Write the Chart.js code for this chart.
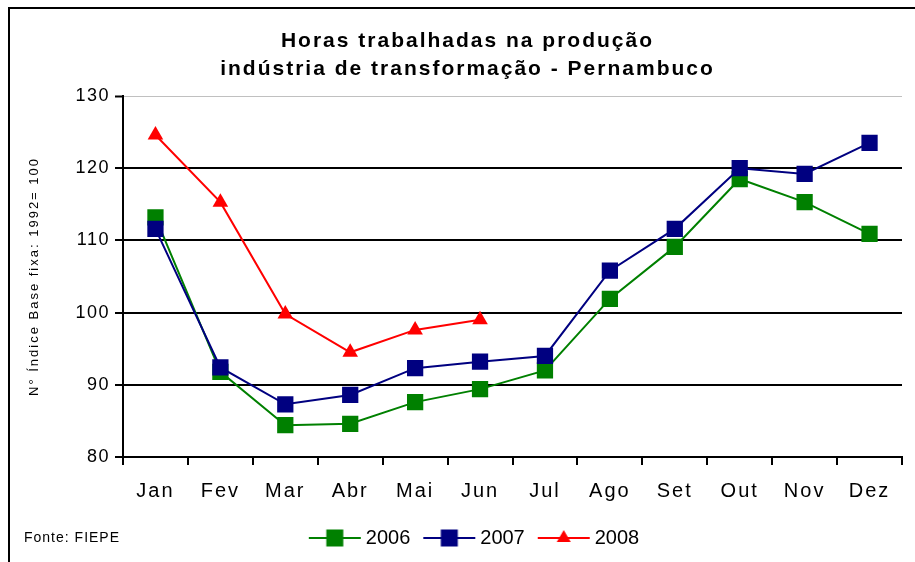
<!DOCTYPE html>
<html>
<head>
<meta charset="utf-8">
<script src="https://cdn.jsdelivr.net/npm/chart.js@4.4.1/dist/chart.umd.min.js"></script>
<style>
html, body { margin: 0; padding: 0; background: #fff; }
#wrap { width: 915px; height: 562px; }
canvas { display: block; }
</style>
</head>
<body>
<div id="wrap"><canvas id="c" width="915" height="562"></canvas></div>
<script>
// ---- data ----
const months = ['Jan', 'Fev', 'Mar', 'Abr', 'Mai', 'Jun', 'Jul', 'Ago', 'Set', 'Out', 'Nov', 'Dez'];
const series2006 = [113.2, 91.8, 84.4, 84.6, 87.6, 89.4, 92.0, 101.9, 109.1, 118.5, 115.3, 110.9];
const series2007 = [111.6, 92.4, 87.3, 88.6, 92.3, 93.2, 94.0, 105.8, 111.6, 120.0, 119.2, 123.5];
const series2008 = [124.6, 115.3, 99.8, 94.5, 97.6, 99.0];
const seriesNames = ['2006', '2007', '2008'];
const yTicks = [80, 90, 100, 110, 120, 130];
const titleLines = ['Horas trabalhadas na produção', 'indústria de transformação - Pernambuco'];
const yTitle = 'N° Índice Base fixa: 1992= 100';
const sourceNote = 'Fonte: FIEPE';

// ---- styles ----
const FONT = '"Liberation Sans", Arial, Helvetica, sans-serif';
const COLORS = ['#008000', '#000080', '#ff0000'];
const MARKERS = ['rect', 'rect', 'triangle'];

Chart.defaults.font.family = FONT;
Chart.defaults.color = '#000';

function legendIcon(color, style) {
  const cv = document.createElement('canvas');
  cv.width = 72; cv.height = 20;
  const g = cv.getContext('2d');
  g.strokeStyle = color; g.lineWidth = 2;
  g.beginPath(); g.moveTo(19, 10); g.lineTo(71, 10); g.stroke();
  g.fillStyle = color;
  if (style === 'rect') {
    g.fillRect(45 - 8.5, 10 - 8.5, 17, 17);
  } else {
    g.beginPath();
    g.moveTo(45, 2);
    g.lineTo(45 + 7, 14);
    g.lineTo(45 - 7, 14);
    g.closePath(); g.fill();
  }
  return cv;
}
const icons = COLORS.map((c, i) => legendIcon(c, MARKERS[i]));

function spaceText(obj, methods, ls) {
  methods.forEach(m => {
    const orig = obj[m];
    if (typeof orig !== 'function' || orig._spaced) return;
    const wrapped = function (...args) {
      const ctx = this.ctx;
      const prev = ctx.letterSpacing;
      ctx.letterSpacing = ls;
      try { return orig.apply(this, args); } finally { ctx.letterSpacing = prev; }
    };
    wrapped._spaced = true;
    obj[m] = wrapped;
  });
}

const spacingPlugin = {
  id: 'spacing',
  beforeLayout(chart) {
    if (chart.titleBlock) spaceText(chart.titleBlock, ['draw'], '2px');
    if (chart.scales.x) spaceText(chart.scales.x, ['drawLabels'], '2px');
    if (chart.scales.y) {
      spaceText(chart.scales.y, ['drawLabels'], '1.5px');
      spaceText(chart.scales.y, ['drawTitle'], '2px');
    }
  }
};

const framePlugin = {
  id: 'frame',
  beforeDraw(chart) {
    const c = chart.ctx;
    c.save();
    c.fillStyle = '#fff';
    c.fillRect(0, 0, chart.width, chart.height);
    c.fillStyle = '#000';
    c.fillRect(8, 7, chart.width - 8, 2);
    c.fillRect(8, 7, 2, chart.height - 7);
    c.restore();
  },
  afterDraw(chart) {
    const c = chart.ctx;
    c.save();
    c.font = '14px ' + FONT;
    c.letterSpacing = '1px';
    c.fillStyle = '#000';
    c.textAlign = 'left';
    c.textBaseline = 'middle';
    c.fillText(sourceNote, 24, 538);
    c.restore();
  }
};

const allSeries = [series2006, series2007, series2008];

new Chart(document.getElementById('c'), {
  type: 'line',
  data: {
    labels: months,
    datasets: allSeries.map((vals, i) => ({
      label: seriesNames[i],
      data: vals,
      borderColor: COLORS[i],
      backgroundColor: COLORS[i],
      borderWidth: 2,
      pointStyle: MARKERS[i],
      pointRadius: MARKERS[i] === 'rect' ? 11.5 : 9,
      pointBorderWidth: 0,
      pointHoverRadius: MARKERS[i] === 'rect' ? 11.5 : 9,
      tension: 0,
      fill: false,
      order: 3 - i
    }))
  },
  options: {
    responsive: false,
    animation: false,
    events: [],
    layout: { padding: { left: 33, right: 13, top: 0, bottom: 4 } },
    plugins: {
      title: {
        display: true,
        text: titleLines,
        color: '#000',
        font: { size: 21, weight: 'bold', lineHeight: '28px' },
        padding: { top: 27, bottom: 13 }
      },
      legend: {
        display: true,
        position: 'bottom',
        labels: {
          usePointStyle: true,
          pointStyleWidth: 60,
          padding: 0,
          color: '#000',
          font: { size: 20 },
          generateLabels: chart => chart.data.datasets.map((ds, i) => ({
            text: ds.label,
            pointStyle: icons[i],
            fillStyle: ds.backgroundColor,
            strokeStyle: ds.borderColor,
            lineWidth: 0,
            hidden: false,
            datasetIndex: i,
            fontColor: '#000'
          }))
        }
      },
      tooltip: { enabled: false }
    },
    scales: {
      x: {
        offset: true,
        grid: { offset: true, drawOnChartArea: false, drawTicks: true, tickLength: 8, color: '#000', lineWidth: 2 },
        border: { display: true, color: '#000', width: 2 },
        ticks: { font: { size: 20 }, padding: 14, autoSkip: false, maxRotation: 0, color: '#000' },
        afterFit: s => { s.height = 71; }
      },
      y: {
        min: 80,
        max: 130,
        ticks: { stepSize: 10, font: { size: 18 }, padding: 5, color: '#000' },
        afterBuildTicks: s => { s.ticks = yTicks.map(v => ({ value: v })); },
        grid: {
          color: c => (c.tick && c.tick.value === 130) ? '#c0c0c0' : '#000',
          lineWidth: c => (c.tick && c.tick.value === 130) ? 1 : 2,
          tickColor: '#000',
          tickWidth: 2,
          tickLength: 8
        },
        border: { display: true, color: '#000', width: 2 },
        title: { display: true, text: yTitle, color: '#000', font: { size: 13 }, padding: { top: -6, bottom: 0 } },
        afterFit: s => { s.width = 90; }
      }
    }
  },
  plugins: [spacingPlugin, framePlugin]
});
</script>
</body>
</html>
